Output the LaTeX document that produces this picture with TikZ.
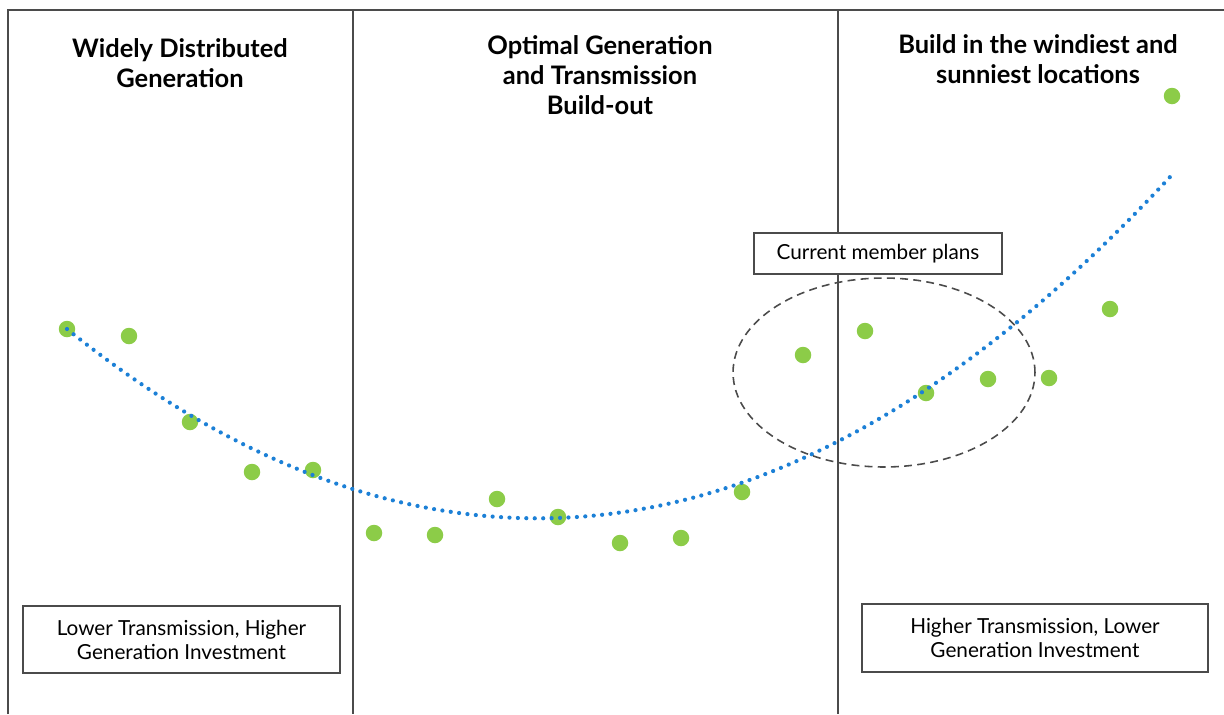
\documentclass[tikz,border=0pt]{standalone}
\usepackage{fontspec}
\setmainfont{Lato}
\usepackage{xcolor}
\usetikzlibrary{shapes,positioning}

\definecolor{ptgreen}{RGB}{140,204,72}
\definecolor{trendblue}{RGB}{28,128,214}
\definecolor{framegray}{RGB}{75,75,75}

\tikzset{
  paneltitle/.style={font=\bfseries\fontsize{14.5}{17}\selectfont, align=center},
  infobox/.style={draw=framegray, line width=1.2pt, fill=white, rectangle, align=center, font=\fontsize{11.8}{13.6}\selectfont},
  divider/.style={draw=framegray, line width=1.2pt},
}

\begin{document}
\begin{tikzpicture}[x=0.02cm, y=-0.02cm]
    \useasboundingbox (0,0) rectangle (1224,714);

    % Frame and dividers
    \draw[divider] (8,714) -- (8,10) -- (1224,10);
    \draw[divider] (353,10) -- (353,714);
    \draw[divider] (838,10) -- (838,714);

    % Titles
    \node[paneltitle] (distgen) at (180,63) {Widely Distributed\\Generation};
    \node[paneltitle] (optgen) at (600,75) {Optimal Generation\\and Transmission\\Build-out};
    \node[paneltitle] (windy) at (1038,59) {Build in the windiest and\\sunniest locations};

    % Data points
    \foreach \px/\py in {67/329, 129/336, 190/422, 252/472, 313/470, 374/533, 435/535,
                         497/499, 558/517, 620/543, 681/538, 742/492, 803/355, 865/331,
                         926/393, 988/379, 1049/378, 1110/309, 1172/96}
        \fill[ptgreen] (\px,\py) circle [radius=0.165cm];

    % Trend line
    \draw[trendblue, line width=2.4pt, line cap=round, dash pattern=on 0pt off 4.8pt]
        plot[domain=67:1172, samples=120, smooth]
        (\x, {518.3-8.54*((\x-537.8)/100)*((\x-537.8)/100)});

    % Current plans
    \draw[framegray, line width=0.9pt, dash pattern=on 4.5pt off 3pt] (884,372.5) ellipse [x radius=3.02cm, y radius=1.89cm];
    \node[infobox, minimum width=4.96cm, minimum height=0.82cm] (plans) at (878,253.5) {Current member plans};

    % Boxes
    \node[infobox, minimum width=6.34cm, minimum height=1.34cm] (lowtx) at (181.5,639.5) {Lower Transmission, Higher\\Generation Investment};
    \node[infobox, minimum width=6.92cm, minimum height=1.36cm] (hightx) at (1035,638) {Higher Transmission, Lower\\Generation Investment};
\end{tikzpicture}
\end{document}
